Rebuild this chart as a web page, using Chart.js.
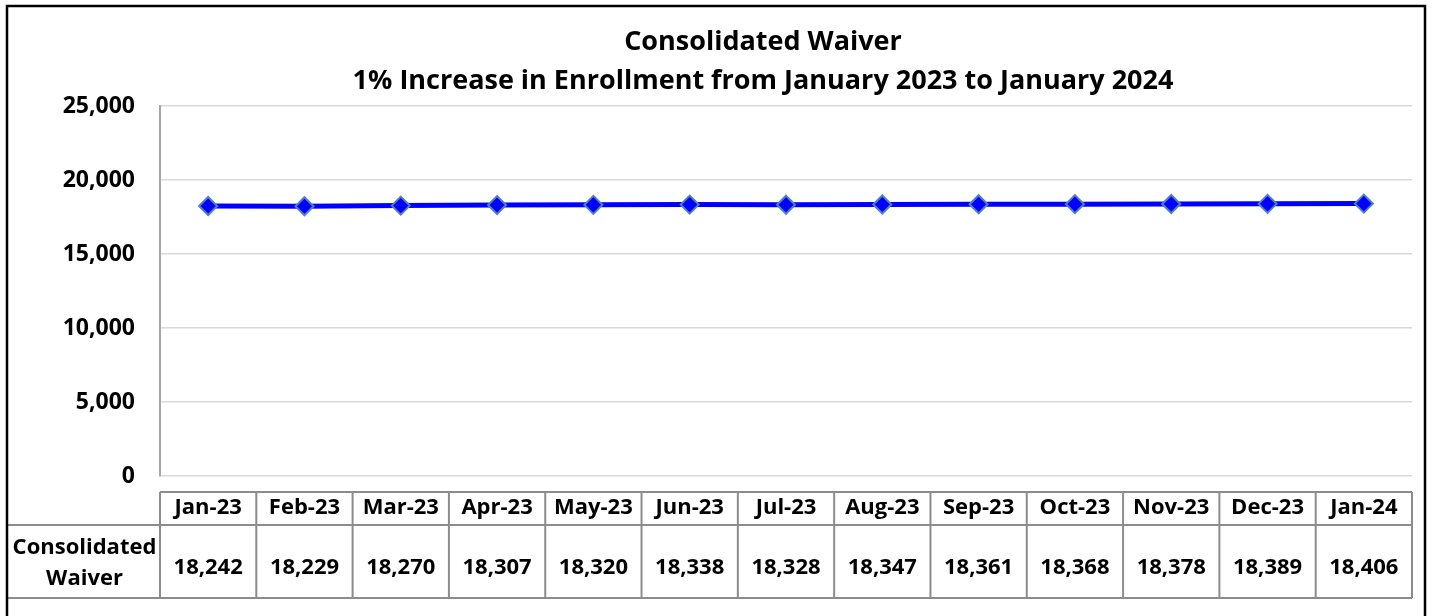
<!DOCTYPE html>
<html>
<head>
<meta charset="utf-8">
<script src="https://cdn.jsdelivr.net/npm/chart.js@4"></script>
<style>
html,body{margin:0;padding:0;background:#fff;}
#wrap{width:1434px;height:616px;position:relative;}
</style>
</head>
<body>
<div id="wrap"><canvas id="c" width="1434" height="616"></canvas></div>
<script>
const categories = ['Jan-23','Feb-23','Mar-23','Apr-23','May-23','Jun-23','Jul-23','Aug-23','Sep-23','Oct-23','Nov-23','Dec-23','Jan-24'];
const enrollment = [18242,18229,18270,18307,18320,18338,18328,18347,18361,18368,18378,18389,18406];
const seriesLabel = ['Consolidated','Waiver'];
const titleLines = ['Consolidated Waiver','1% Increase in Enrollment from January 2023 to January 2024'];
const yMin = 0, yMax = 25000, yStep = 5000;

const FONT = '"Open Sans", Lato, sans-serif';

const decor = {
  id: 'decor',
  afterDraw(chart) {
    const ctx = chart.ctx;
    const x = chart.scales.x;
    const area = chart.chartArea;
    ctx.save();
    // title
    ctx.fillStyle = '#000';
    ctx.font = 'bold 27px ' + FONT;
    ctx.textAlign = 'center';
    ctx.textBaseline = 'middle';
    ctx.fillText(titleLines[0], 763, 42);
    ctx.fillText(titleLines[1], 763, 81);

    // data table
    const n = categories.length;
    const colW = (area.right - area.left) / n;
    const top = 492, mid = 525, bot = 598, labelLeft = 7;
    ctx.strokeStyle = '#8c8c8c';
    ctx.lineWidth = 2;
    ctx.beginPath();
    ctx.moveTo(area.left, top); ctx.lineTo(area.right, top);
    ctx.moveTo(labelLeft, mid); ctx.lineTo(area.right, mid);
    ctx.moveTo(labelLeft, bot); ctx.lineTo(area.right, bot);
    for (let i = 0; i <= n; i++) {
      const xx = area.left + i * colW;
      ctx.moveTo(xx, top); ctx.lineTo(xx, bot);
    }
    ctx.stroke();

    ctx.fillStyle = '#000';
    ctx.font = 'bold 22px ' + FONT;
    for (let i = 0; i < n; i++) {
      const cx = x.getPixelForValue(i);
      ctx.fillText(categories[i], cx, 508);
      ctx.fillText(enrollment[i].toLocaleString('en-US'), cx, 568);
    }
    ctx.fillText(seriesLabel[0], (labelLeft + area.left) / 2 + 1, 548);
    ctx.fillText(seriesLabel[1], (labelLeft + area.left) / 2 + 1, 579);

    // outer border
    ctx.strokeStyle = '#000';
    ctx.lineWidth = 2.5;
    ctx.beginPath();
    ctx.moveTo(7, 630); ctx.lineTo(7, 6); ctx.lineTo(1425, 6); ctx.lineTo(1425, 630);
    ctx.stroke();
    ctx.restore();
  }
};

new Chart(document.getElementById('c'), {
  type: 'line',
  data: {
    labels: categories,
    datasets: [{
      label: 'Consolidated Waiver',
      data: enrollment,
      borderColor: '#0000FF',
      backgroundColor: '#0000FF',
      borderWidth: 5,
      pointStyle: 'rectRot',
      pointRadius: 9,
      pointHoverRadius: 9,
      pointBackgroundColor: '#0000FF',
      pointBorderColor: '#4F81BD',
      pointBorderWidth: 2,
      tension: 0
    }]
  },
  options: {
    responsive: false,
    animation: false,
    layout: { padding: { left: 0, right: 22, top: 106, bottom: 140 } },
    plugins: { legend: { display: false }, title: { display: false }, tooltip: { enabled: false } },
    scales: {
      x: { display: false, offset: true },
      y: {
        min: yMin, max: yMax,
        ticks: {
          stepSize: yStep,
          color: '#000',
          padding: 25,
          font: { family: FONT, size: 23, weight: 'bold' },
          callback: v => v.toLocaleString('en-US')
        },
        grid: { color: '#d9d9d9', lineWidth: 1.5, drawTicks: false },
        border: { color: '#a6a6a6', width: 2 },
        afterFit: s => { s.width = 160; }
      }
    }
  },
  plugins: [decor]
});
</script>
</body>
</html>
